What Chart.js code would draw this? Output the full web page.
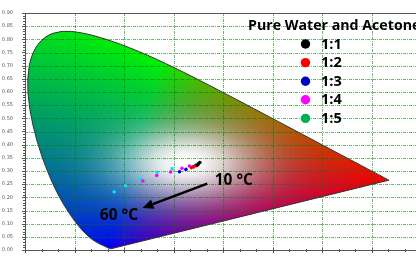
<!DOCTYPE html>
<html><head><meta charset="utf-8">
<script src="https://cdn.jsdelivr.net/npm/chart.js@4.4.1/dist/chart.umd.min.js"></script>
<style>
html,body{margin:0;padding:0;background:#fff;overflow:hidden;width:416px;height:257px}
#wrap{position:relative;width:423px;height:257px}
</style></head><body>
<div id="wrap"><canvas id="c" width="423" height="257"></canvas></div>
<script>
// ---- data ----
const seriesNames = ['1:1', '1:2', '1:3', '1:4', '1:5'];
const s11x = [0.353, 0.350, 0.348];
const s11y = [0.332, 0.327, 0.323];
const s12x = [0.346, 0.341, 0.336];
const s12y = [0.320, 0.316, 0.313];
const s13x = [0.345, 0.340, 0.325, 0.312];
const s13y = [0.322, 0.316, 0.306, 0.297];
const s14x = [0.332, 0.317, 0.294, 0.266, 0.238];
const s14y = [0.319, 0.310, 0.296, 0.283, 0.262];
const s15x = [0.297, 0.267, 0.233, 0.203, 0.180];
const s15y = [0.308, 0.295, 0.270, 0.244, 0.221];
const xTicks = [0, 0.1, 0.2, 0.3, 0.4, 0.5, 0.6, 0.7];
const yTicks = [0, 0.05, 0.1, 0.15, 0.2, 0.25, 0.3, 0.35, 0.4, 0.45, 0.5, 0.55, 0.6, 0.65, 0.7, 0.75, 0.8, 0.85, 0.9];
const legendTitle = 'Pure Water and Acetone';
const label10 = '10 °C';
const label60 = '60 °C';
// CIE 1931 spectral locus (380-700 nm)
const locusX = [0.1741,0.1740,0.1738,0.1736,0.1733,0.1730,0.1726,0.1721,0.1714,0.1703,0.1689,0.1669,0.1644,0.1611,0.1566,0.1510,0.1440,0.1355,0.1241,0.1096,0.0913,0.0687,0.0454,0.0235,0.0082,0.0039,0.0139,0.0389,0.0743,0.1142,0.1547,0.1929,0.2296,0.2658,0.3016,0.3373,0.3731,0.4087,0.4441,0.4788,0.5125,0.5448,0.5752,0.6029,0.6270,0.6482,0.6658,0.6801,0.6915,0.7006,0.7079,0.7140,0.7190,0.7230,0.7260,0.7300,0.7320,0.7334,0.7347];
const locusY = [0.0050,0.0050,0.0049,0.0049,0.0048,0.0048,0.0048,0.0048,0.0051,0.0058,0.0069,0.0086,0.0109,0.0138,0.0177,0.0227,0.0297,0.0399,0.0578,0.0868,0.1327,0.2007,0.2950,0.4127,0.5384,0.6548,0.7502,0.8120,0.8338,0.8262,0.8059,0.7816,0.7543,0.7243,0.6923,0.6589,0.6245,0.5896,0.5547,0.5202,0.4866,0.4544,0.4242,0.3965,0.3725,0.3514,0.3340,0.3197,0.3083,0.2993,0.2920,0.2859,0.2809,0.2770,0.2740,0.2700,0.2680,0.2666,0.2653];

const pointColors = ['#000000', '#ff0000', '#0000ff', '#ff00ff', '#00e6e6'];
const legendColors = ['#000000', '#ff0000', '#0000c0', '#ff00ff', '#00b050'];

const zip = (xs, ys) => xs.map((v, i) => ({x: v, y: ys[i]}));
const allX = [s11x, s12x, s13x, s14x, s15x];
const allY = [s11y, s12y, s13y, s14y, s15y];

function xyColor(x, y) {
  const X = x / y, Z = (1 - x - y) / y;
  let r = 2.3647 * X - 0.8966 - 0.4681 * Z;
  let g = -0.5152 * X + 1.4264 + 0.0888 * Z;
  let b = 0.0052 * X - 0.0144 + 1.0092 * Z;
  r = Math.max(r, 0); g = Math.max(g, 0); b = Math.max(b, 0);
  const s = r + g + b || 1;
  const K = 242;
  r = Math.pow(r / s, 0.9) * K; g = Math.pow(g / s, 0.9) * K; b = Math.pow(b / s, 0.9) * K;
  const d2 = (x - 0.325) * (x - 0.325) + (y - 0.33) * (y - 0.33);
  const glow = Math.exp(-d2 / (2 * 0.095 * 0.095));
  return [r + (255 - r) * glow, g + (255 - g) * glow, b + (255 - b) * glow];
}

const gamutPlugin = {
  id: 'gamut',
  beforeDatasetsDraw(chart) {
    const {ctx, chartArea: a, scales: {x: sx, y: sy}} = chart;
    const w = Math.ceil(a.right - a.left), h = Math.ceil(a.bottom - a.top);
    const off = document.createElement('canvas');
    off.width = w; off.height = h;
    const oc = off.getContext('2d');
    const img = oc.createImageData(w, h);
    for (let j = 0; j < h; j++) {
      const yv = sy.getValueForPixel(a.top + j + 0.5);
      if (yv <= 0.002) continue;
      for (let i = 0; i < w; i++) {
        const xv = sx.getValueForPixel(a.left + i + 0.5);
        const c = xyColor(xv, yv);
        const k = (j * w + i) * 4;
        img.data[k] = c[0]; img.data[k + 1] = c[1]; img.data[k + 2] = c[2]; img.data[k + 3] = 255;
      }
    }
    oc.putImageData(img, 0, 0);
    const pts = locusX.map((v, i) => [sx.getPixelForValue(v), sy.getPixelForValue(locusY[i])]);
    const path = () => {
      ctx.beginPath();
      ctx.moveTo(pts[0][0], pts[0][1]);
      for (let i = 1; i < pts.length - 1; i++) {
        const mx = (pts[i][0] + pts[i + 1][0]) / 2, my = (pts[i][1] + pts[i + 1][1]) / 2;
        ctx.quadraticCurveTo(pts[i][0], pts[i][1], mx, my);
      }
      ctx.lineTo(pts[pts.length - 1][0], pts[pts.length - 1][1]);
      ctx.closePath();
    };
    ctx.save(); path(); ctx.clip(); ctx.drawImage(off, a.left, a.top); ctx.restore();
    ctx.save(); path(); ctx.strokeStyle = '#333'; ctx.lineWidth = 1; ctx.lineJoin = 'round'; ctx.stroke(); ctx.restore();

    // grid lines
    ctx.save();
    ctx.strokeStyle = 'rgba(0,120,0,0.55)';
    ctx.lineWidth = 1;
    ctx.setLineDash([3, 1, 1, 1]);
    xTicks.concat([0.8]).forEach(v => {
      if (v === 0) return;
      const px = Math.round(sx.getPixelForValue(v)) + 0.5;
      ctx.beginPath(); ctx.moveTo(px, a.top); ctx.lineTo(px, a.bottom); ctx.stroke();
    });
    yTicks.forEach(v => {
      if (v === 0 || v === 0.9) return;
      const py = Math.round(sy.getPixelForValue(v)) + 0.5;
      ctx.beginPath(); ctx.moveTo(a.left, py); ctx.lineTo(a.right, py); ctx.stroke();
    });
    ctx.restore();

    // frame top + ticks
    ctx.save();
    ctx.strokeStyle = '#555'; ctx.lineWidth = 1;
    ctx.beginPath(); ctx.moveTo(a.left, a.top + 0.5); ctx.lineTo(a.right, a.top + 0.5); ctx.stroke();
    ctx.beginPath();
    for (let v = 0; v <= 0.9001; v += 0.01) {
      const py = Math.round(sy.getPixelForValue(v)) + 0.5;
      const major = Math.abs(v / 0.05 - Math.round(v / 0.05)) < 1e-6;
      ctx.moveTo(a.left - (major ? 3 : 2), py); ctx.lineTo(a.left, py);
    }
    for (let v = 0; v <= 0.8001; v += 0.1 / 3) {
      const px = Math.round(sx.getPixelForValue(v)) + 0.5;
      const major = Math.abs(v / 0.1 - Math.round(v / 0.1)) < 1e-6;
      ctx.moveTo(px, a.bottom - (major ? 2 : 1)); ctx.lineTo(px, a.bottom + (major ? 3 : 2));
    }
    ctx.stroke();
    ctx.restore();
  },
  afterDatasetsDraw(chart) {
    const {ctx, scales: {x: sx, y: sy}} = chart;
    ctx.save();
    // legend
    ctx.fillStyle = '#000';
    ctx.textBaseline = 'alphabetic';
    ctx.textAlign = 'left';
    ctx.font = 'bold 14.2px "Open Sans"';
    ctx.fillText(legendTitle, 248, 29.5);
    ctx.font = 'bold 14.5px "Open Sans"';
    ctx.textBaseline = 'middle';
    seriesNames.forEach((n, i) => {
      const cy = 44 + i * 18.6;
      ctx.beginPath(); ctx.arc(305.5, cy, 4.7, 0, Math.PI * 2); ctx.fillStyle = legendColors[i]; ctx.fill();
      ctx.fillStyle = '#000';
      ctx.fillText(n, 321, cy + 0.5);
    });
    // annotations
    ctx.textBaseline = 'alphabetic';
    ctx.font = 'bold 15.5px "Open Sans"';
    ctx.fillText(label10, sx.getPixelForValue(0.383), sy.getPixelForValue(0.247));
    ctx.fillText(label60, sx.getPixelForValue(0.151), sy.getPixelForValue(0.114));
    // arrow
    const x1 = sx.getPixelForValue(0.368), y1 = sy.getPixelForValue(0.252);
    const x2 = sx.getPixelForValue(0.2372), y2 = sy.getPixelForValue(0.1595);
    const ang = Math.atan2(y2 - y1, x2 - x1);
    const hl = 11, hw = 5;
    const bx = x2 - hl * Math.cos(ang), by = y2 - hl * Math.sin(ang);
    ctx.strokeStyle = '#000'; ctx.lineWidth = 2.6;
    ctx.beginPath(); ctx.moveTo(x1, y1); ctx.lineTo(bx, by); ctx.stroke();
    ctx.beginPath();
    ctx.moveTo(x2, y2);
    ctx.lineTo(bx + hw * Math.sin(ang), by - hw * Math.cos(ang));
    ctx.lineTo(bx - hw * Math.sin(ang), by + hw * Math.cos(ang));
    ctx.closePath(); ctx.fillStyle = '#000'; ctx.fill();
    ctx.restore();
  }
};

new Chart(document.getElementById('c'), {
  type: 'scatter',
  data: {
    datasets: seriesNames.map((n, i) => ({
      label: n,
      data: zip(allX[i], allY[i]),
      backgroundColor: pointColors[i],
      borderWidth: 0,
      pointRadius: 1.8,
      pointHoverRadius: 1.8
    }))
  },
  options: {
    responsive: false,
    animation: false,
    devicePixelRatio: 1,
    layout: {padding: {top: 13, left: 0, right: 0, bottom: 0}},
    plugins: {legend: {display: false}, tooltip: {enabled: false}},
    scales: {
      x: {
        type: 'linear', min: 0, max: 0.8,
        grid: {display: false},
        border: {display: true, color: '#555', width: 1},
        ticks: {font: {size: 5, family: 'DejaVu Sans'}, color: '#555', padding: 3, maxRotation: 0, autoSkip: false,
                callback: v => Number(v).toFixed(2)},
        afterBuildTicks: s => { s.ticks = xTicks.map(v => ({value: v})); },
        afterFit: s => { s.height = 7; }
      },
      y: {
        type: 'linear', min: 0, max: 0.9,
        grid: {display: false},
        border: {display: true, color: '#555', width: 1},
        ticks: {font: {size: 5, family: 'DejaVu Sans'}, color: '#555', padding: 4, autoSkip: false,
                callback: v => Number(v).toFixed(2)},
        afterBuildTicks: s => { s.ticks = yTicks.map(v => ({value: v})); },
        afterFit: s => { s.width = 25; }
      }
    }
  },
  plugins: [gamutPlugin]
});
</script>
</body></html>
